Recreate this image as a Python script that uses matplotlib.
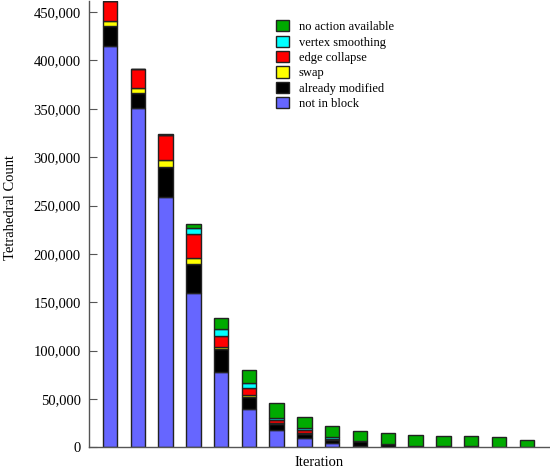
import matplotlib
matplotlib.use("Agg")
import matplotlib.pyplot as plt
import numpy as np

# stacked segment values per iteration (bottom to top)
iterations = list(range(1, 17))
not_in_block = [415000, 350700, 258600, 160000, 78200, 39600, 18200, 9300, 4100, 1700, 300, 200, 100, 100, 100, 0]
already_modified = [21000, 15500, 31100, 30000, 23200, 12700, 6200, 4700, 3800, 5100, 2800, 1500, 1000, 1000, 500, 300]
swap = [5000, 5500, 7200, 6200, 2700, 1500, 1000, 500, 500, 0, 0, 0, 0, 0, 0, 0]
edge_collapse = [20000, 19300, 26100, 24000, 11300, 7500, 2800, 3100, 500, 0, 0, 0, 0, 0, 0, 0]
vertex_smoothing = [0, 0, 0, 6500, 6700, 4900, 1800, 2000, 1400, 0, 0, 0, 0, 0, 0, 0]
no_action = [0, 0, 1400, 4400, 11300, 13800, 16100, 11700, 11400, 10400, 11200, 11300, 10600, 10300, 10100, 7600]

series = [
    ("not in block", not_in_block, "#6666ff"),
    ("already modified", already_modified, "#000000"),
    ("swap", swap, "#ffff00"),
    ("edge collapse", edge_collapse, "#ff0000"),
    ("vertex smoothing", vertex_smoothing, "#00ffff"),
    ("no action available", no_action, "#00aa00"),
]

plt.rcParams["font.family"] = ["Liberation Serif", "DejaVu Serif"]

fig = plt.figure(figsize=(5.5, 4.73), dpi=100)
ax = fig.add_axes([89 / 550, 1 - 447.3 / 473, (549 - 89) / 550, (447.3 - 1) / 473])

x = np.arange(len(iterations))
bottom = np.zeros(len(iterations))
handles = []
for label, vals, color in series:
    vals = np.array(vals, dtype=float)
    b = ax.bar(x, vals, bottom=bottom, width=0.52, color=color,
               edgecolor="#222222", linewidth=1.0, label=label)
    handles.append(b)
    bottom += vals

ax.set_xlim(-0.755, 15.8)
ax.set_ylim(0, 461500)
ax.set_yticks(range(0, 450001, 50000))
ax.set_yticklabels([f"{v:,}" for v in range(0, 450001, 50000)], fontsize=10.5)
ax.set_xticks([])
ax.tick_params(axis="y", direction="in", length=6, color="#555555", pad=6)

for s in ["top", "right"]:
    ax.spines[s].set_visible(False)
for s in ["left", "bottom"]:
    ax.spines[s].set_color("#555555")
    ax.spines[s].set_linewidth(1.0)

ax.set_xlabel("Iteration", fontsize=10.5, labelpad=6)
fig.text(11 / 550, 1 - 208 / 473, "Tetrahedral Count", rotation=90,
         ha="center", va="center", fontsize=10.5)

leg = ax.legend(handles[::-1], [s[0] for s in series][::-1], loc="upper left",
                bbox_to_anchor=(0.383, 0.982), frameon=False, fontsize=9,
                handlelength=1.0, handleheight=1.0, handletextpad=0.8,
                labelspacing=0.2)

fig.savefig("out.png", dpi=100)
